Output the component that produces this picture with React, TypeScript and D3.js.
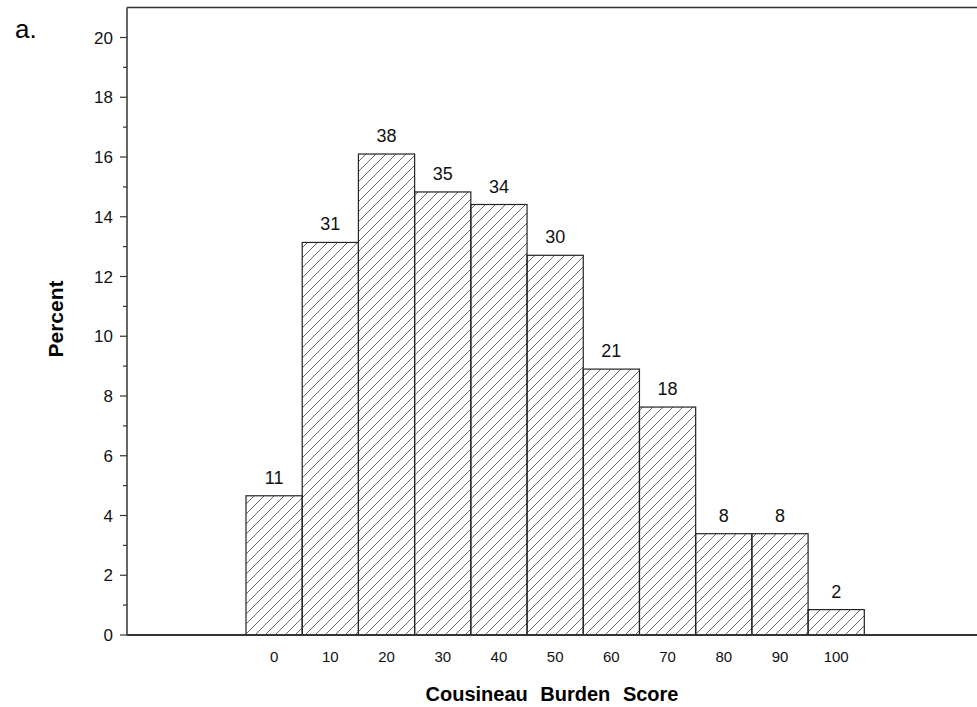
import React, { useEffect, useRef } from "react";
import * as d3 from "d3";

const scores = [0, 10, 20, 30, 40, 50, 60, 70, 80, 90, 100];
const counts = [11, 31, 38, 35, 34, 30, 21, 18, 8, 8, 2];
const percents = [4.66, 13.14, 16.1, 14.83, 14.41, 12.71, 8.9, 7.63, 3.39, 3.39, 0.85];
const yTicks = [0, 2, 4, 6, 8, 10, 12, 14, 16, 18, 20];

const App = () => {
    const ref = useRef<SVGSVGElement>(null);
    const dim = { width: 977, height: 707 };
    const plot = { left: 127, right: 977, top: 7.5, bottom: 635 };

    useEffect(() => {
        const svg = d3
            .select(ref.current)
            .attr("width", dim.width)
            .attr("height", dim.height)
            .style("font-family", "'Liberation Sans', Arial, sans-serif");
        svg.selectAll("*").remove();

        const xScale = d3.scaleLinear().domain([-5, 105]).range([246, 864.3]);
        const yScale = d3.scaleLinear().domain([0, 20]).range([plot.bottom, 37.5]);

        // hatch pattern
        const pat = svg
            .append("defs")
            .append("pattern")
            .attr("id", "hatch")
            .attr("patternUnits", "userSpaceOnUse")
            .attr("width", 10)
            .attr("height", 10);
        pat.append("path")
            .attr("d", "M-1,1 L1,-1 M0,10 L10,0 M9,11 L11,9")
            .attr("stroke", "#666")
            .attr("stroke-width", 1);

        // bars
        const bars = svg.append("g");
        scores.forEach((s, i) => {
            bars.append("rect")
                .attr("x", xScale(s - 5))
                .attr("y", yScale(percents[i]))
                .attr("width", xScale(s + 5) - xScale(s - 5))
                .attr("height", yScale(0) - yScale(percents[i]))
                .attr("fill", "url(#hatch)")
                .attr("stroke", "#222")
                .attr("stroke-width", 1.2);
            bars.append("text")
                .attr("x", xScale(s))
                .attr("y", yScale(percents[i]) - 12)
                .attr("text-anchor", "middle")
                .attr("font-size", 18)
                .attr("fill", "#111")
                .text(counts[i]);
            bars.append("text")
                .attr("x", xScale(s))
                .attr("y", 662)
                .attr("text-anchor", "middle")
                .attr("font-size", 15)
                .attr("fill", "#111")
                .text(s);
        });

        // frame
        svg.append("line")
            .attr("x1", plot.left).attr("x2", plot.right)
            .attr("y1", plot.top).attr("y2", plot.top)
            .attr("stroke", "#333").attr("stroke-width", 1.5);
        svg.append("line")
            .attr("x1", plot.left).attr("x2", plot.left)
            .attr("y1", plot.top).attr("y2", plot.bottom)
            .attr("stroke", "#333").attr("stroke-width", 1.5);
        svg.append("line")
            .attr("x1", plot.left).attr("x2", plot.right)
            .attr("y1", plot.bottom).attr("y2", plot.bottom)
            .attr("stroke", "#333").attr("stroke-width", 2);

        // y ticks
        const yAx = svg.append("g");
        d3.range(0, 21, 1).forEach((v) => {
            const major = v % 2 === 0;
            yAx.append("line")
                .attr("x1", plot.left - (major ? 7 : 4)).attr("x2", plot.left)
                .attr("y1", yScale(v)).attr("y2", yScale(v))
                .attr("stroke", "#333").attr("stroke-width", 1.2);
        });
        yTicks.forEach((v) => {
            yAx.append("text")
                .attr("x", 113)
                .attr("y", yScale(v))
                .attr("dy", "0.36em")
                .attr("text-anchor", "end")
                .attr("font-size", 17)
                .attr("fill", "#111")
                .text(v);
        });

        // titles
        svg.append("text")
            .attr("x", 552)
            .attr("y", 701)
            .attr("text-anchor", "middle")
            .attr("font-size", 20)
            .attr("font-weight", "bold")
            .attr("word-spacing", 7)
            .text("Cousineau Burden Score");
        svg.append("text")
            .attr("transform", "translate(63,319) rotate(-90)")
            .attr("text-anchor", "middle")
            .attr("font-size", 21)
            .attr("font-weight", "bold")
            .text("Percent");
        svg.append("text")
            .attr("x", 15)
            .attr("y", 38)
            .attr("font-size", 26)
            .text("a.");
    }, []);

    return (
        <div style={{ position: "absolute", left: 0, top: 0 }}>
            <svg ref={ref}></svg>
        </div>
    );
};

export default App;
